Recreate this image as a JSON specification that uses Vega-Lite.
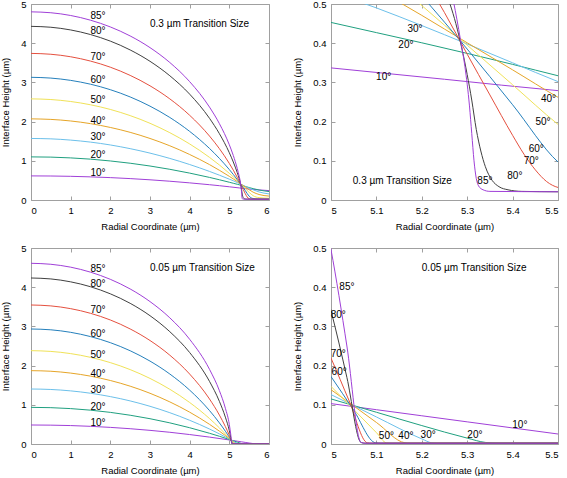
{
"$schema": "https://vega.github.io/schema/vega-lite/v6.json",
"autosize": {"type": "none"},
"padding": {"left": 31, "top": 4, "right": 536, "bottom": 474},
"config": {
  "font": "Liberation Sans",
  "view": {"stroke": "#a0a0a0", "strokeWidth": 1},
  "axis": {"domain": false, "grid": false, "tickColor": "#a0a0a0", "tickSize": -4, "labelFont": "Liberation Sans", "labelFontSize": 9.5, "labelColor": "#000", "labelPadding": 9, "titleFont": "Liberation Sans", "titleFontSize": 9.5, "titleFontWeight": "normal", "titleColor": "#000"},
  "axisX": {"titlePadding": 7},
  "axisY": {"titlePadding": 10},
  "text": {"font": "Liberation Sans", "fontSize": 10, "color": "#000"}
},
"datasets": {
"thick": [
{"a":10,"x":0,"y":0.615},{"a":10,"x":0.5,"y":0.612},{"a":10,"x":1,"y":0.604},{"a":10,"x":1.5,"y":0.590},{"a":10,"x":2,"y":0.571},{"a":10,"x":2.5,"y":0.546},{"a":10,"x":3,"y":0.515},{"a":10,"x":3.5,"y":0.479},{"a":10,"x":4,"y":0.437},{"a":10,"x":4.5,"y":0.390},{"a":10,"x":4.75,"y":0.365},{"a":10,"x":5,"y":0.337},{"a":10,"x":5.25,"y":0.308},{"a":10,"x":5.5,"y":0.279},{"a":10,"x":5.75,"y":0.257},{"a":10,"x":6,"y":0.24},
{"a":20,"x":0,"y":1.10},{"a":20,"x":0.5,"y":1.094},{"a":20,"x":1,"y":1.074},{"a":20,"x":1.5,"y":1.042},{"a":20,"x":2,"y":0.996},{"a":20,"x":2.5,"y":0.938},{"a":20,"x":3,"y":0.867},{"a":20,"x":3.5,"y":0.783},{"a":20,"x":4,"y":0.686},{"a":20,"x":4.5,"y":0.576},{"a":20,"x":4.75,"y":0.516},{"a":20,"x":5,"y":0.453},{"a":20,"x":5.1,"y":0.427},{"a":20,"x":5.2,"y":0.401},{"a":20,"x":5.3,"y":0.374},{"a":20,"x":5.4,"y":0.346},{"a":20,"x":5.5,"y":0.317},{"a":20,"x":5.6,"y":0.29},{"a":20,"x":5.75,"y":0.255},{"a":20,"x":6,"y":0.215},
{"a":30,"x":0,"y":1.57},{"a":30,"x":0.5,"y":1.560},{"a":30,"x":1,"y":1.528},{"a":30,"x":1.5,"y":1.477},{"a":30,"x":2,"y":1.404},{"a":30,"x":2.5,"y":1.310},{"a":30,"x":3,"y":1.196},{"a":30,"x":3.5,"y":1.061},{"a":30,"x":4,"y":0.905},{"a":30,"x":4.5,"y":0.729},{"a":30,"x":4.75,"y":0.633},{"a":30,"x":5,"y":0.531},{"a":30,"x":5.1,"y":0.49},{"a":30,"x":5.2,"y":0.445},{"a":30,"x":5.3,"y":0.398},{"a":30,"x":5.4,"y":0.350},{"a":30,"x":5.5,"y":0.302},{"a":30,"x":5.6,"y":0.26},{"a":30,"x":5.75,"y":0.205},{"a":30,"x":6,"y":0.155},
{"a":40,"x":0,"y":2.07},{"a":40,"x":0.5,"y":2.056},{"a":40,"x":1,"y":2.016},{"a":40,"x":1.5,"y":1.948},{"a":40,"x":2,"y":1.851},{"a":40,"x":2.5,"y":1.726},{"a":40,"x":3,"y":1.570},{"a":40,"x":3.5,"y":1.383},{"a":40,"x":4,"y":1.161},{"a":40,"x":4.5,"y":0.903},{"a":40,"x":4.75,"y":0.758},{"a":40,"x":5,"y":0.603},{"a":40,"x":5.1,"y":0.538},{"a":40,"x":5.2,"y":0.471},{"a":40,"x":5.3,"y":0.401},{"a":40,"x":5.4,"y":0.332},{"a":40,"x":5.5,"y":0.262},{"a":40,"x":5.6,"y":0.20},{"a":40,"x":5.75,"y":0.14},{"a":40,"x":6,"y":0.10},
{"a":50,"x":0,"y":2.58},{"a":50,"x":0.5,"y":2.563},{"a":50,"x":1,"y":2.513},{"a":50,"x":1.5,"y":2.429},{"a":50,"x":2,"y":2.310},{"a":50,"x":2.5,"y":2.153},{"a":50,"x":3,"y":1.957},{"a":50,"x":3.5,"y":1.717},{"a":50,"x":4,"y":1.430},{"a":50,"x":4.5,"y":1.087},{"a":50,"x":4.75,"y":0.893},{"a":50,"x":5,"y":0.680},{"a":50,"x":5.1,"y":0.590},{"a":50,"x":5.2,"y":0.496},{"a":50,"x":5.3,"y":0.395},{"a":50,"x":5.4,"y":0.294},{"a":50,"x":5.5,"y":0.193},{"a":50,"x":5.6,"y":0.11},{"a":50,"x":5.75,"y":0.06},{"a":50,"x":6,"y":0.045},
{"a":60,"x":0,"y":3.13},{"a":60,"x":0.5,"y":3.110},{"a":60,"x":1,"y":3.052},{"a":60,"x":1.5,"y":2.954},{"a":60,"x":2,"y":2.814},{"a":60,"x":2.5,"y":2.629},{"a":60,"x":3,"y":2.394},{"a":60,"x":3.5,"y":2.105},{"a":60,"x":4,"y":1.750},{"a":60,"x":4.5,"y":1.315},{"a":60,"x":4.75,"y":1.061},{"a":60,"x":5,"y":0.776},{"a":60,"x":5.1,"y":0.652},{"a":60,"x":5.2,"y":0.521},{"a":60,"x":5.3,"y":0.385},{"a":60,"x":5.4,"y":0.243},{"a":60,"x":5.5,"y":0.097},{"a":60,"x":5.55,"y":0.055},{"a":60,"x":5.6,"y":0.038},{"a":60,"x":5.7,"y":0.027},{"a":60,"x":5.85,"y":0.022},{"a":60,"x":6,"y":0.021},
{"a":70,"x":0,"y":3.74},{"a":70,"x":0.5,"y":3.718},{"a":70,"x":1,"y":3.654},{"a":70,"x":1.5,"y":3.544},{"a":70,"x":2,"y":3.388},{"a":70,"x":2.5,"y":3.179},{"a":70,"x":3,"y":2.913},{"a":70,"x":3.5,"y":2.579},{"a":70,"x":4,"y":2.161},{"a":70,"x":4.5,"y":1.631},{"a":70,"x":4.75,"y":1.309},{"a":70,"x":5,"y":0.932},{"a":70,"x":5.1,"y":0.762},{"a":70,"x":5.2,"y":0.577},{"a":70,"x":5.25,"y":0.478},{"a":70,"x":5.3,"y":0.372},{"a":70,"x":5.35,"y":0.268},{"a":70,"x":5.4,"y":0.165},{"a":70,"x":5.425,"y":0.117},{"a":70,"x":5.45,"y":0.077},{"a":70,"x":5.475,"y":0.047},{"a":70,"x":5.5,"y":0.032},{"a":70,"x":5.55,"y":0.024},{"a":70,"x":5.65,"y":0.021},{"a":70,"x":6,"y":0.02},
{"a":80,"x":0,"y":4.43},{"a":80,"x":0.5,"y":4.407},{"a":80,"x":1,"y":4.338},{"a":80,"x":1.5,"y":4.221},{"a":80,"x":2,"y":4.053},{"a":80,"x":2.5,"y":3.828},{"a":80,"x":3,"y":3.538},{"a":80,"x":3.5,"y":3.169},{"a":80,"x":4,"y":2.700},{"a":80,"x":4.5,"y":2.084},{"a":80,"x":4.75,"y":1.691},{"a":80,"x":5,"y":1.205},{"a":80,"x":5.1,"y":0.969},{"a":80,"x":5.2,"y":0.697},{"a":80,"x":5.25,"y":0.541},{"a":80,"x":5.275,"y":0.45},{"a":80,"x":5.3,"y":0.32},{"a":80,"x":5.31,"y":0.255},{"a":80,"x":5.32,"y":0.18},{"a":80,"x":5.33,"y":0.125},{"a":80,"x":5.34,"y":0.085},{"a":80,"x":5.355,"y":0.05},{"a":80,"x":5.37,"y":0.034},{"a":80,"x":5.39,"y":0.026},{"a":80,"x":5.42,"y":0.022},{"a":80,"x":5.5,"y":0.021},{"a":80,"x":6,"y":0.02},
{"a":85,"x":0,"y":4.8},{"a":85,"x":0.5,"y":4.777},{"a":85,"x":1,"y":4.707},{"a":85,"x":1.5,"y":4.587},{"a":85,"x":2,"y":4.415},{"a":85,"x":2.5,"y":4.185},{"a":85,"x":3,"y":3.887},{"a":85,"x":3.5,"y":3.507},{"a":85,"x":4,"y":3.019},{"a":85,"x":4.5,"y":2.370},{"a":85,"x":4.75,"y":1.947},{"a":85,"x":5,"y":1.408},{"a":85,"x":5.1,"y":1.135},{"a":85,"x":5.2,"y":0.802},{"a":85,"x":5.25,"y":0.598},{"a":85,"x":5.27,"y":0.505},{"a":85,"x":5.285,"y":0.41},{"a":85,"x":5.295,"y":0.34},{"a":85,"x":5.305,"y":0.24},{"a":85,"x":5.31,"y":0.17},{"a":85,"x":5.315,"y":0.10},{"a":85,"x":5.32,"y":0.055},{"a":85,"x":5.325,"y":0.036},{"a":85,"x":5.335,"y":0.026},{"a":85,"x":5.35,"y":0.022},{"a":85,"x":5.5,"y":0.021},{"a":85,"x":6,"y":0.02}
],
"thin": [
{"a":10,"x":0,"y":0.485},{"a":10,"x":0.5,"y":0.481},{"a":10,"x":1,"y":0.470},{"a":10,"x":1.5,"y":0.451},{"a":10,"x":2,"y":0.424},{"a":10,"x":2.5,"y":0.390},{"a":10,"x":3,"y":0.348},{"a":10,"x":3.5,"y":0.299},{"a":10,"x":4,"y":0.241},{"a":10,"x":4.5,"y":0.176},{"a":10,"x":5,"y":0.103},{"a":10,"x":5.1,"y":0.0875},{"a":10,"x":5.2,"y":0.072},{"a":10,"x":5.3,"y":0.0565},{"a":10,"x":5.4,"y":0.041},{"a":10,"x":5.5,"y":0.0255},{"a":10,"x":5.6,"y":0.011},{"a":10,"x":5.66,"y":0.003},{"a":10,"x":5.7,"y":0.002},{"a":10,"x":6,"y":0.002},
{"a":20,"x":0,"y":0.935},{"a":20,"x":0.5,"y":0.927},{"a":20,"x":1,"y":0.903},{"a":20,"x":1.5,"y":0.863},{"a":20,"x":2,"y":0.807},{"a":20,"x":2.5,"y":0.734},{"a":20,"x":3,"y":0.645},{"a":20,"x":3.5,"y":0.539},{"a":20,"x":4,"y":0.415},{"a":20,"x":4.5,"y":0.274},{"a":20,"x":4.75,"y":0.197},{"a":20,"x":5,"y":0.115},{"a":20,"x":5.1,"y":0.081},{"a":20,"x":5.2,"y":0.047},{"a":20,"x":5.3,"y":0.015},{"a":20,"x":5.34,"y":0.004},{"a":20,"x":5.37,"y":0.002},{"a":20,"x":6,"y":0.002},
{"a":30,"x":0,"y":1.403},{"a":30,"x":0.5,"y":1.391},{"a":30,"x":1,"y":1.355},{"a":30,"x":1.5,"y":1.295},{"a":30,"x":2,"y":1.209},{"a":30,"x":2.5,"y":1.099},{"a":30,"x":3,"y":0.962},{"a":30,"x":3.5,"y":0.798},{"a":30,"x":4,"y":0.605},{"a":30,"x":4.5,"y":0.382},{"a":30,"x":4.75,"y":0.258},{"a":30,"x":4.9,"y":0.180},{"a":30,"x":5,"y":0.126},{"a":30,"x":5.1,"y":0.069},{"a":30,"x":5.2,"y":0.013},{"a":30,"x":5.222,"y":0.003},{"a":30,"x":5.235,"y":0.002},{"a":30,"x":6,"y":0.002},
{"a":40,"x":0,"y":1.871},{"a":40,"x":0.5,"y":1.856},{"a":40,"x":1,"y":1.809},{"a":40,"x":1.5,"y":1.731},{"a":40,"x":2,"y":1.620},{"a":40,"x":2.5,"y":1.475},{"a":40,"x":3,"y":1.294},{"a":40,"x":3.5,"y":1.074},{"a":40,"x":4,"y":0.812},{"a":40,"x":4.5,"y":0.502},{"a":40,"x":4.75,"y":0.328},{"a":40,"x":4.9,"y":0.216},{"a":40,"x":5,"y":0.1385},{"a":40,"x":5.1,"y":0.055},{"a":40,"x":5.163,"y":0.003},{"a":40,"x":5.175,"y":0.002},{"a":40,"x":6,"y":0.002},
{"a":50,"x":0,"y":2.381},{"a":50,"x":0.5,"y":2.362},{"a":50,"x":1,"y":2.306},{"a":50,"x":1.5,"y":2.211},{"a":50,"x":2,"y":2.076},{"a":50,"x":2.5,"y":1.898},{"a":50,"x":3,"y":1.673},{"a":50,"x":3.5,"y":1.396},{"a":50,"x":4,"y":1.059},{"a":50,"x":4.5,"y":0.649},{"a":50,"x":4.75,"y":0.411},{"a":50,"x":4.9,"y":0.256},{"a":50,"x":5,"y":0.147},{"a":50,"x":5.05,"y":0.088},{"a":50,"x":5.1,"y":0.029},{"a":50,"x":5.122,"y":0.003},{"a":50,"x":5.135,"y":0.002},{"a":50,"x":6,"y":0.002},
{"a":60,"x":0,"y":2.934},{"a":60,"x":0.5,"y":2.913},{"a":60,"x":1,"y":2.849},{"a":60,"x":1.5,"y":2.740},{"a":60,"x":2,"y":2.585},{"a":60,"x":2.5,"y":2.379},{"a":60,"x":3,"y":2.115},{"a":60,"x":3.5,"y":1.785},{"a":60,"x":4,"y":1.374},{"a":60,"x":4.5,"y":0.853},{"a":60,"x":4.75,"y":0.538},{"a":60,"x":4.9,"y":0.326},{"a":60,"x":5,"y":0.172},{"a":60,"x":5.05,"y":0.086},{"a":60,"x":5.098,"y":0.003},{"a":60,"x":5.11,"y":0.002},{"a":60,"x":6,"y":0.002},
{"a":70,"x":0,"y":3.546},{"a":70,"x":0.5,"y":3.523},{"a":70,"x":1,"y":3.453},{"a":70,"x":1.5,"y":3.334},{"a":70,"x":2,"y":3.164},{"a":70,"x":2.5,"y":2.935},{"a":70,"x":3,"y":2.640},{"a":70,"x":3.5,"y":2.265},{"a":70,"x":4,"y":1.784},{"a":70,"x":4.5,"y":1.148},{"a":70,"x":4.75,"y":0.737},{"a":70,"x":4.9,"y":0.444},{"a":70,"x":5,"y":0.219},{"a":70,"x":5.04,"y":0.11},{"a":70,"x":5.08,"y":0.003},{"a":70,"x":5.09,"y":0.002},{"a":70,"x":6,"y":0.002},
{"a":80,"x":0,"y":4.235},{"a":80,"x":0.5,"y":4.211},{"a":80,"x":1,"y":4.137},{"a":80,"x":1.5,"y":4.012},{"a":80,"x":2,"y":3.831},{"a":80,"x":2.5,"y":3.589},{"a":80,"x":3,"y":3.273},{"a":80,"x":3.5,"y":2.865},{"a":80,"x":4,"y":2.333},{"a":80,"x":4.5,"y":1.597},{"a":80,"x":4.75,"y":1.086},{"a":80,"x":4.9,"y":0.685},{"a":80,"x":5,"y":0.34},{"a":80,"x":5.035,"y":0.17},{"a":80,"x":5.066,"y":0.004},{"a":80,"x":5.075,"y":0.002},{"a":80,"x":6,"y":0.002},
{"a":85,"x":0,"y":4.61},{"a":85,"x":0.5,"y":4.585},{"a":85,"x":1,"y":4.511},{"a":85,"x":1.5,"y":4.384},{"a":85,"x":2,"y":4.201},{"a":85,"x":2.5,"y":3.955},{"a":85,"x":3,"y":3.633},{"a":85,"x":3.5,"y":3.218},{"a":85,"x":4,"y":2.671},{"a":85,"x":4.5,"y":1.905},{"a":85,"x":4.75,"y":1.359},{"a":85,"x":4.9,"y":0.912},{"a":85,"x":5,"y":0.496},{"a":85,"x":5.035,"y":0.25},{"a":85,"x":5.066,"y":0.004},{"a":85,"x":5.075,"y":0.002},{"a":85,"x":6,"y":0.002}
],
"labTL": [
{"x":1.69,"y":4.69,"t":"85°"},{"x":1.69,"y":4.30,"t":"80°"},{"x":1.69,"y":3.64,"t":"70°"},{"x":1.69,"y":3.06,"t":"60°"},{"x":1.69,"y":2.55,"t":"50°"},{"x":1.69,"y":2.02,"t":"40°"},{"x":1.69,"y":1.61,"t":"30°"},{"x":1.69,"y":1.16,"t":"20°"},{"x":1.69,"y":0.69,"t":"10°"}
],
"labTR": [
{"x":5.339,"y":0.049,"t":"85°"},{"x":5.405,"y":0.061,"t":"80°"},{"x":5.441,"y":0.100,"t":"70°"},{"x":5.452,"y":0.130,"t":"60°"},{"x":5.467,"y":0.200,"t":"50°"},{"x":5.479,"y":0.257,"t":"40°"},{"x":5.185,"y":0.436,"t":"30°"},{"x":5.165,"y":0.396,"t":"20°"},{"x":5.116,"y":0.313,"t":"10°"}
],
"labBL": [
{"x":1.69,"y":4.46,"t":"85°"},{"x":1.69,"y":4.09,"t":"80°"},{"x":1.69,"y":3.43,"t":"70°"},{"x":1.69,"y":2.81,"t":"60°"},{"x":1.69,"y":2.28,"t":"50°"},{"x":1.69,"y":1.79,"t":"40°"},{"x":1.69,"y":1.38,"t":"30°"},{"x":1.69,"y":0.935,"t":"20°"},{"x":1.69,"y":0.527,"t":"10°"}
],
"labBR": [
{"x":5.035,"y":0.400,"t":"85°"},{"x":5.016,"y":0.330,"t":"80°"},{"x":5.016,"y":0.230,"t":"70°"},{"x":5.018,"y":0.183,"t":"60°"},{"x":5.122,"y":0.020,"t":"50°"},{"x":5.165,"y":0.020,"t":"40°"},{"x":5.214,"y":0.024,"t":"30°"},{"x":5.317,"y":0.024,"t":"20°"},{"x":5.416,"y":0.049,"t":"10°"}
]
},
"columns": 2,
"spacing": {"column": 62, "row": 48},
"bounds": "flush",
"concat": [
{"width": 238, "height": 196,
 "layer": [
  {"data": {"name": "thick"}, "mark": {"type": "line", "clip": true, "interpolate": "monotone", "strokeWidth": 1},
   "encoding": {
    "x": {"field": "x", "type": "quantitative", "scale": {"domain": [0, 6], "nice": false, "zero": false}, "axis": {"values": [0,1,2,3,4,5,6], "format": "~g", "title": "Radial Coordinate (µm)"}},
    "y": {"field": "y", "type": "quantitative", "scale": {"domain": [0, 5], "nice": false}, "axis": {"values": [0,1,2,3,4,5], "format": "~g", "title": "Interface Height (µm)"}},
    "color": {"field": "a", "type": "nominal", "legend": null, "scale": {"domain": [10,20,30,40,50,60,70,80,85], "range": ["#A040D8","#20A080","#6CC0EA","#E6A528","#F0E258","#2580BC","#E5503F","#404040","#A040D8"]}}}},
  {"data": {"name": "labTL"}, "mark": {"type": "text"},
   "encoding": {
    "x": {"field": "x", "type": "quantitative", "axis": {"orient": "top", "values": [0,1,2,3,4,5,6], "labels": false, "title": null}},
    "y": {"field": "y", "type": "quantitative", "axis": {"orient": "right", "values": [0,1,2,3,4,5], "labels": false, "title": null}},
    "text": {"field": "t"}}},
  {"data": {"values": [{"x": 3.0, "y": 4.49, "t": "0.3 µm Transition Size"}]}, "mark": {"type": "text", "align": "left"},
   "encoding": {"x": {"field": "x", "type": "quantitative", "axis": null}, "y": {"field": "y", "type": "quantitative", "axis": null}, "text": {"field": "t"}}}
 ],
 "resolve": {"axis": {"x": "independent", "y": "independent"}}},
{"width": 227, "height": 196,
 "layer": [
  {"data": {"name": "thick"}, "mark": {"type": "line", "clip": true, "interpolate": "monotone", "strokeWidth": 1},
   "encoding": {
    "x": {"field": "x", "type": "quantitative", "scale": {"domain": [5, 5.5], "nice": false, "zero": false}, "axis": {"values": [5,5.1,5.2,5.3,5.4,5.5], "format": "~g", "title": "Radial Coordinate (µm)"}},
    "y": {"field": "y", "type": "quantitative", "scale": {"domain": [0, 0.5], "nice": false}, "axis": {"values": [0,0.1,0.2,0.3,0.4,0.5], "format": "~g", "title": "Interface Height (µm)"}},
    "color": {"field": "a", "type": "nominal", "legend": null, "scale": {"domain": [10,20,30,40,50,60,70,80,85], "range": ["#A040D8","#20A080","#6CC0EA","#E6A528","#F0E258","#2580BC","#E5503F","#404040","#A040D8"]}}}},
  {"data": {"name": "labTR"}, "mark": {"type": "text"},
   "encoding": {
    "x": {"field": "x", "type": "quantitative", "axis": {"orient": "top", "values": [5,5.1,5.2,5.3,5.4,5.5], "labels": false, "title": null}},
    "y": {"field": "y", "type": "quantitative", "axis": {"orient": "right", "values": [0,0.1,0.2,0.3,0.4,0.5], "labels": false, "title": null}},
    "text": {"field": "t"}}},
  {"data": {"values": [{"x": 5.048, "y": 0.049, "t": "0.3 µm Transition Size"}]}, "mark": {"type": "text", "align": "left"},
   "encoding": {"x": {"field": "x", "type": "quantitative", "axis": null}, "y": {"field": "y", "type": "quantitative", "axis": null}, "text": {"field": "t"}}}
 ],
 "resolve": {"axis": {"x": "independent", "y": "independent"}}},
{"width": 238, "height": 196,
 "layer": [
  {"data": {"name": "thin"}, "mark": {"type": "line", "clip": true, "interpolate": "monotone", "strokeWidth": 1},
   "encoding": {
    "x": {"field": "x", "type": "quantitative", "scale": {"domain": [0, 6], "nice": false, "zero": false}, "axis": {"values": [0,1,2,3,4,5,6], "format": "~g", "title": "Radial Coordinate (µm)"}},
    "y": {"field": "y", "type": "quantitative", "scale": {"domain": [0, 5], "nice": false}, "axis": {"values": [0,1,2,3,4,5], "format": "~g", "title": "Interface Height (µm)"}},
    "color": {"field": "a", "type": "nominal", "legend": null, "scale": {"domain": [10,20,30,40,50,60,70,80,85], "range": ["#A040D8","#20A080","#6CC0EA","#E6A528","#F0E258","#2580BC","#E5503F","#404040","#A040D8"]}}}},
  {"data": {"name": "labBL"}, "mark": {"type": "text"},
   "encoding": {
    "x": {"field": "x", "type": "quantitative", "axis": {"orient": "top", "values": [0,1,2,3,4,5,6], "labels": false, "title": null}},
    "y": {"field": "y", "type": "quantitative", "axis": {"orient": "right", "values": [0,1,2,3,4,5], "labels": false, "title": null}},
    "text": {"field": "t"}}},
  {"data": {"values": [{"x": 3.0, "y": 4.49, "t": "0.05 µm Transition Size"}]}, "mark": {"type": "text", "align": "left"},
   "encoding": {"x": {"field": "x", "type": "quantitative", "axis": null}, "y": {"field": "y", "type": "quantitative", "axis": null}, "text": {"field": "t"}}}
 ],
 "resolve": {"axis": {"x": "independent", "y": "independent"}}},
{"width": 227, "height": 196,
 "layer": [
  {"data": {"name": "thin"}, "mark": {"type": "line", "clip": true, "interpolate": "monotone", "strokeWidth": 1},
   "encoding": {
    "x": {"field": "x", "type": "quantitative", "scale": {"domain": [5, 5.5], "nice": false, "zero": false}, "axis": {"values": [5,5.1,5.2,5.3,5.4,5.5], "format": "~g", "title": "Radial Coordinate (µm)"}},
    "y": {"field": "y", "type": "quantitative", "scale": {"domain": [0, 0.5], "nice": false}, "axis": {"values": [0,0.1,0.2,0.3,0.4,0.5], "format": "~g", "title": "Interface Height (µm)"}},
    "color": {"field": "a", "type": "nominal", "legend": null, "scale": {"domain": [10,20,30,40,50,60,70,80,85], "range": ["#A040D8","#20A080","#6CC0EA","#E6A528","#F0E258","#2580BC","#E5503F","#404040","#A040D8"]}}}},
  {"data": {"name": "labBR"}, "mark": {"type": "text"},
   "encoding": {
    "x": {"field": "x", "type": "quantitative", "axis": {"orient": "top", "values": [5,5.1,5.2,5.3,5.4,5.5], "labels": false, "title": null}},
    "y": {"field": "y", "type": "quantitative", "axis": {"orient": "right", "values": [0,0.1,0.2,0.3,0.4,0.5], "labels": false, "title": null}},
    "text": {"field": "t"}}},
  {"data": {"values": [{"x": 5.2, "y": 0.449, "t": "0.05 µm Transition Size"}]}, "mark": {"type": "text", "align": "left"},
   "encoding": {"x": {"field": "x", "type": "quantitative", "axis": null}, "y": {"field": "y", "type": "quantitative", "axis": null}, "text": {"field": "t"}}}
 ],
 "resolve": {"axis": {"x": "independent", "y": "independent"}}}
]
}
